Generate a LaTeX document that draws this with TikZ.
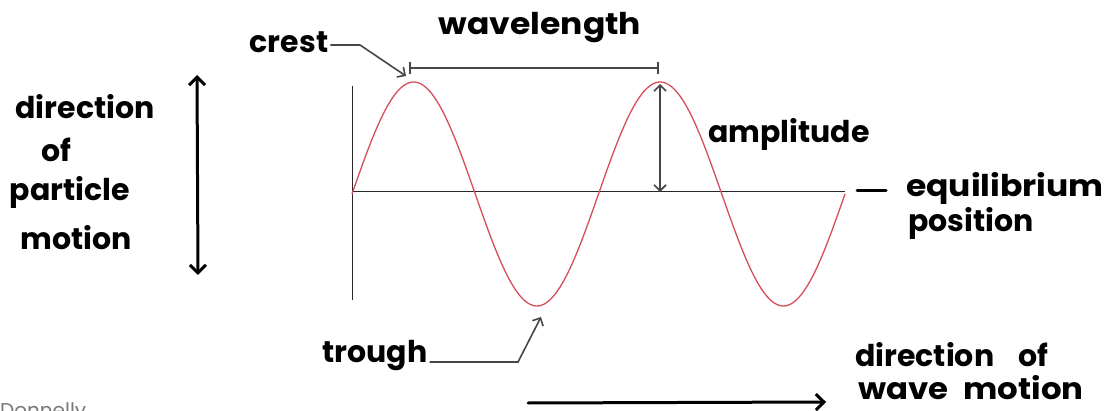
\documentclass[tikz,border=0pt]{standalone}
\usepackage{fontspec}
\setmainfont{Poppins}
\usetikzlibrary{arrows.meta}
\definecolor{wavered}{RGB}{214,78,92}
\definecolor{dimgray}{RGB}{70,70,70}
\definecolor{axisgray}{RGB}{40,40,40}
\definecolor{credgray}{RGB}{120,120,120}
\tikzset{
  lbl/.style={font=\fontsize{30}{34}\selectfont\bfseries, text=black, inner sep=0pt},
  dimline/.style={draw=dimgray, line width=1.6pt},
  thickarrow/.style={draw=black, line width=3pt, line cap=round},
  axisline/.style={draw=axisgray, line width=1pt},
  wave/.style={draw=wavered, line width=1.3pt},
}
\begin{document}
\begin{tikzpicture}[x=1pt,y=-1pt]
\useasboundingbox (0,0) rectangle (1110,411);
\fill[white] (0,0) rectangle (1110,411);
% axes
\coordinate (o) at (352,192);
\coordinate (vtop) at (352,86);
\coordinate (vbot) at (352,300);
\coordinate (eqend) at (845,192);
\draw[axisline] (vtop) -- (vbot);
\draw[axisline] (o) -- (eqend);
% wave
\draw[wave] plot[domain=352:845, samples=240, smooth] (\x, {194-112*sin((\x-352)/246.5*360)});
% wavelength
\coordinate (wl1) at (410,68);
\coordinate (wl2) at (658,68);
\draw[dimline] (wl1) -- (wl2);
\draw[dimline] (410,62) -- (410,74);
\draw[dimline] (658,62) -- (658,74);
\node[lbl, xscale=1.1] (wavelength) at (540,28) {wavelength};
% amplitude
\coordinate (amptop) at (660,84);
\coordinate (ampbot) at (660,192);
\draw[dimline, {Straight Barb[length=6pt,width=12pt]}-{Straight Barb[length=6pt,width=12pt]}] (amptop) -- (ampbot);
\node[lbl] (amplitude) at (789,134) {amplitude};
% crest
\node[lbl] (crest) at (289,42) {crest};
\coordinate (crestbend) at (360,45);
\coordinate (crestpt) at (406,76);
\draw[dimline, -{Straight Barb[length=6pt,width=12pt]}] ([xshift=2pt]crest.east |- crestbend) -- (crestbend) -- (crestpt);
% trough
\node[lbl] (trough) at (375,356) {trough};
\coordinate (troughbend) at (518,362);
\coordinate (troughpt) at (541,317);
\draw[dimline, -{Straight Barb[length=6pt,width=12pt]}] ([xshift=2pt]trough.east |- troughbend) -- (troughbend) -- (troughpt);
% equilibrium
\coordinate (eqd1) at (857,191);
\coordinate (eqd2) at (886,191);
\draw[thickarrow] (eqd1) -- (eqd2);
\node[lbl, xscale=1.1] (equil) at (1005,188) {equilibrium};
\node[lbl] (position) at (971,223) {position};
% particle motion
\node[lbl] (pmdir) at (85,107) {direction};
\node[lbl] (pmof) at (56,150) {of};
\node[lbl] (pmpart) at (70,192) {particle};
\node[lbl] (pmmot) at (76,238) {motion};
\coordinate (pm1) at (197,75);
\coordinate (pm2) at (198,275);
\draw[thickarrow, {Straight Barb[length=8pt,width=16pt]}-{Straight Barb[length=8pt,width=16pt]}] (pm1) -- (pm2);
% wave motion
\coordinate (wm1) at (528,403);
\coordinate (wm2) at (826,402);
\draw[thickarrow, -{Straight Barb[length=8pt,width=16pt]}] (wm1) -- (wm2);
\node[lbl, anchor=west] (wmdir) at (855,355) {direction\hspace{24pt}of};
\node[lbl, anchor=west, xscale=1.08] (wmwave) at (858,388) {wave\hspace{14pt}motion};
% credit
\begin{scope}
\clip (0,0) rectangle (1110,411);
\node[font=\fontsize{20}{22}\selectfont, text=credgray, anchor=north west, inner sep=0pt] (credit) at (0,402) {Donnelly};
\end{scope}
\end{tikzpicture}
\end{document}
